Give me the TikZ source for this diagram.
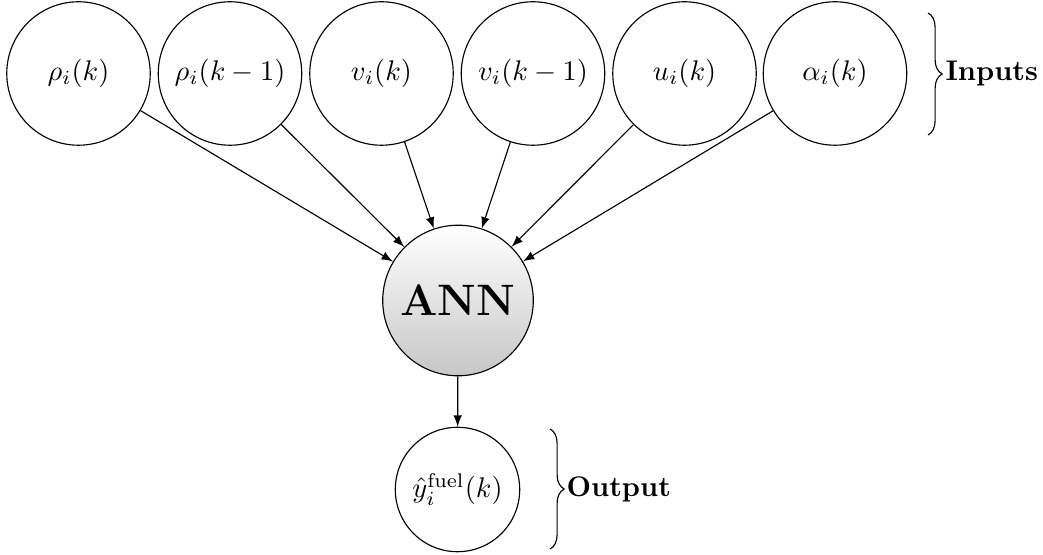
\documentclass[tikz,border=0pt]{standalone}
\usetikzlibrary{decorations.pathreplacing,shadings}
\begin{document}
\begin{tikzpicture}[x=0.352pt,y=-0.352pt,
  inode/.style={circle,draw,minimum size=50.5pt,inner sep=0pt},
  annnode/.style={circle,draw,minimum size=53pt,inner sep=0pt,top color=white,bottom color=black!22,font=\fontsize{15.5}{18}\selectfont\bfseries},
  onode/.style={circle,draw,minimum size=43.8pt,inner sep=0pt},
  conn/.style={-latex},
  bracestyle/.style={decorate,decoration={brace,amplitude=5pt}},
  lbl/.style={anchor=west,font=\bfseries,inner sep=0pt}]
\useasboundingbox (0,0) rectangle (1043,555);
\node[inode] (i1) at (78.5,73.5) {$\rho_i(k)$};
\node[inode] (i2) at (230,73.5) {$\rho_i(k-1)$};
\node[inode] (i3) at (381.5,73.5) {$v_i(k)$};
\node[inode] (i4) at (533,73.5) {$v_i(k-1)$};
\node[inode] (i5) at (684.5,73.5) {$u_i(k)$};
\node[inode] (i6) at (835,73.5) {$\alpha_i(k)$};
\node[annnode] (ann) at (458,300.5) {ANN};
\node[onode] (out) at (457.5,489.5) {$\hat{y}_i^{\mathrm{fuel}}(k)$};
\foreach \n in {i1,i2,i3,i4,i5,i6} \draw[conn] (\n) -- (ann);
\draw[conn] (ann) -- (out);
\coordinate (bi1) at (928,13);
\coordinate (bi2) at (928,135);
\draw[bracestyle] (bi1) -- (bi2);
\node[lbl] (inl) at (945,73.5) {Inputs};
\coordinate (bo1) at (550,429);
\coordinate (bo2) at (550,549);
\draw[bracestyle] (bo1) -- (bo2);
\node[lbl] (outl) at (566,489.5) {Output};
\end{tikzpicture}
\end{document}
